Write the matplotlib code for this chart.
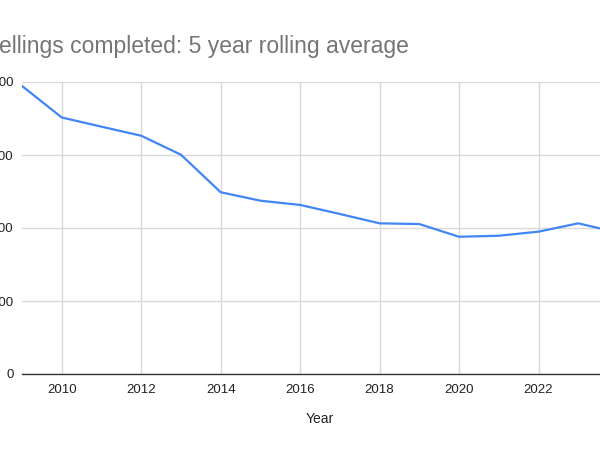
import matplotlib.pyplot as plt

years = list(range(2009, 2025))
completions = [1973, 1757, 1694, 1632, 1502, 1245, 1187, 1158, 1096, 1032,
               1027, 940, 947, 975, 1032, 968]
y_ticks = [0, 500, 1000, 1500, 2000]
x_ticks = [2010, 2012, 2014, 2016, 2018, 2020, 2022]

plt.rcParams['font.family'] = ['Liberation Sans', 'DejaVu Sans']

fig = plt.figure(figsize=(6, 4.5), dpi=100)
# axes run past the right edge of the canvas, as in the cropped reference
ax = fig.add_axes([22 / 600, 76 / 450, 596 / 600, 292 / 450])

ax.plot(years, completions, color='#4285F4', linewidth=1.6, solid_joinstyle='round')

ax.set_xlim(2009, 2024)
ax.set_ylim(0, 2000)
ax.set_xticks(x_ticks)
ax.set_yticks(y_ticks)
ax.grid(True, color='#d9d9d9', linewidth=1.0)
ax.set_axisbelow(True)
for side in ['top', 'right', 'left']:
    ax.spines[side].set_visible(False)
ax.spines['bottom'].set_color('#333333')
ax.spines['bottom'].set_linewidth(1.0)
ax.tick_params(length=0, labelsize=9.5, labelcolor='#222222')
ax.tick_params(axis='x', pad=7)
ax.tick_params(axis='y', pad=6)

ax.set_xlabel('Year', fontsize=10, color='#222222', labelpad=12)

fig.text(-34 / 600, 1 - 47 / 450, 'Dwellings completed: 5 year rolling average',
         fontsize=16.5, color='#757575', ha='left', va='center')

fig.savefig('out.png', dpi=100)
